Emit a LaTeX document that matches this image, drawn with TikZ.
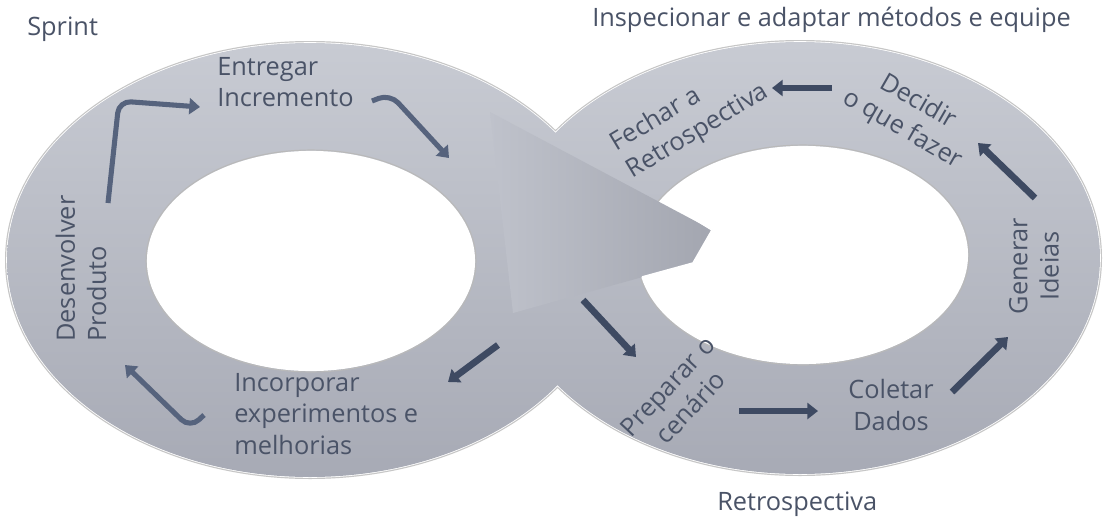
\documentclass[tikz,border=0pt]{standalone}
\usepackage{fontspec}
\setmainfont{Open Sans}
\usetikzlibrary{arrows.meta}
\definecolor{ringtop}{HTML}{C8CBD3}
\definecolor{ringbot}{HTML}{A7AAB5}
\definecolor{wedgel}{HTML}{BFC2CB}
\definecolor{wedger}{HTML}{A3A6B0}
\definecolor{ink}{HTML}{4A5367}
\definecolor{arrowc}{HTML}{3E4A62}
\definecolor{arrowl}{HTML}{56637D}

\begin{document}
\begin{tikzpicture}[x=0.75pt,y=-0.75pt]
	 \tikzstyle{label}=[text=ink,font=\fontsize{19}{23.5}\selectfont,inner sep=0pt]
	 \tikzstyle{flow}=[draw=arrowc,line width=5pt,-{Triangle[length=8pt,width=12pt]}]
	 \tikzstyle{thin flow}=[flow,draw=arrowl,line width=3.8pt,rounded corners=9pt]
	 \tikzstyle{hole}=[fill=white,draw=white,line width=1.6pt]

	\useasboundingbox[fill=white] (0,0) rectangle (1116,521);

	% rim first, body over it
	\draw[draw=gray!45,line width=3pt] (310,260) ellipse [x radius=303,y radius=217] (800,258) ellipse [x radius=300,y radius=216];
	\draw[draw=white,line width=1.2pt] (310,260) ellipse [x radius=303,y radius=217] (800,258) ellipse [x radius=300,y radius=216];
	\shade[top color=ringtop,bottom color=ringbot] (310,260) ellipse [x radius=303,y radius=217] (800,258) ellipse [x radius=300,y radius=216];

	\draw[draw=gray!55,line width=0.8pt] (311,261) ellipse [x radius=165,y radius=111] (803,255) ellipse [x radius=166,y radius=110];
	\draw[hole] (311,261) ellipse [x radius=163,y radius=109] (803,255) ellipse [x radius=164,y radius=108];

	% pointer from the sprint into the retrospective
	\shade[left color=wedgel,right color=wedger] (490,112) -- (712,230) -- (693,263) -- (513,313) -- cycle;
	\draw[white,line width=1.2pt] (662,199) -- (712,230) -- (693,263) -- (642,277);

	\node[label,anchor=west] (sprint) at (27,29) {Sprint};
	\node[label,anchor=west] (insp) at (592,20) {Inspecionar e adaptar métodos e equipe};
	\node[label,anchor=west] (retro) at (717,504) {Retrospectiva};

	\node[label,anchor=north west,align=left] (entregar) at (217,57) {Entregar\\Incremento};
	\node[label,anchor=west,align=left,rotate=90] (desenv) at (81,342) {Desenvolver\\Produto};
	\node[label,anchor=north west,align=left] (incorp) at (234,373) {Incorporar\\experimentos e\\melhorias};
	\node[label,align=left,rotate=31] (fechar) at (690,118) {Fechar a\\Retrospectiva};
	\node[label,align=center,rotate=-30] (decidir) at (910,116) {Decidir\\o que fazer};
	\node[label,align=center,rotate=90] (generar) at (1034,266) {Generar\\Ideias};
	\node[label,align=center,rotate=47] (preparar) at (679,397) {Preparar o\\cenário};
	\node[label,align=center] (coletar) at (891,405) {Coletar\\Dados};

	\coordinate (a1) at (108,203); \coordinate (a1b) at (119,101); \coordinate (a1e) at (200,107);
	\coordinate (a2) at (372,101); \coordinate (a2b) at (390,94); \coordinate (a2e) at (449,158);
	\coordinate (a3) at (498,345); \coordinate (a3e) at (448,382);
	\coordinate (a4) at (204,415); \coordinate (a4b) at (190,428); \coordinate (a4e) at (125,365);
	\coordinate (a5) at (583,300); \coordinate (a5e) at (636,357);
	\coordinate (a6) at (739,411); \coordinate (a6e) at (818,411);
	\coordinate (a7) at (952,392); \coordinate (a7e) at (1008,337);
	\coordinate (a8) at (1035,198); \coordinate (a8e) at (978,143);
	\coordinate (a9) at (832,88); \coordinate (a9e) at (772,88);

	\draw[thin flow] (a1) -- (a1b) -- (a1e);
	\draw[thin flow] (a2) -- (a2b) -- (a2e);
	\draw[thin flow] (a4) -- (a4b) -- (a4e);
	\draw[flow] (a3) -- (a3e);
	\draw[flow] (a5) -- (a5e);
	\draw[flow] (a6) -- (a6e);
	\draw[flow] (a7) -- (a7e);
	\draw[flow] (a8) -- (a8e);
	\draw[flow] (a9) -- (a9e);
 \end{tikzpicture}
\end{document}
